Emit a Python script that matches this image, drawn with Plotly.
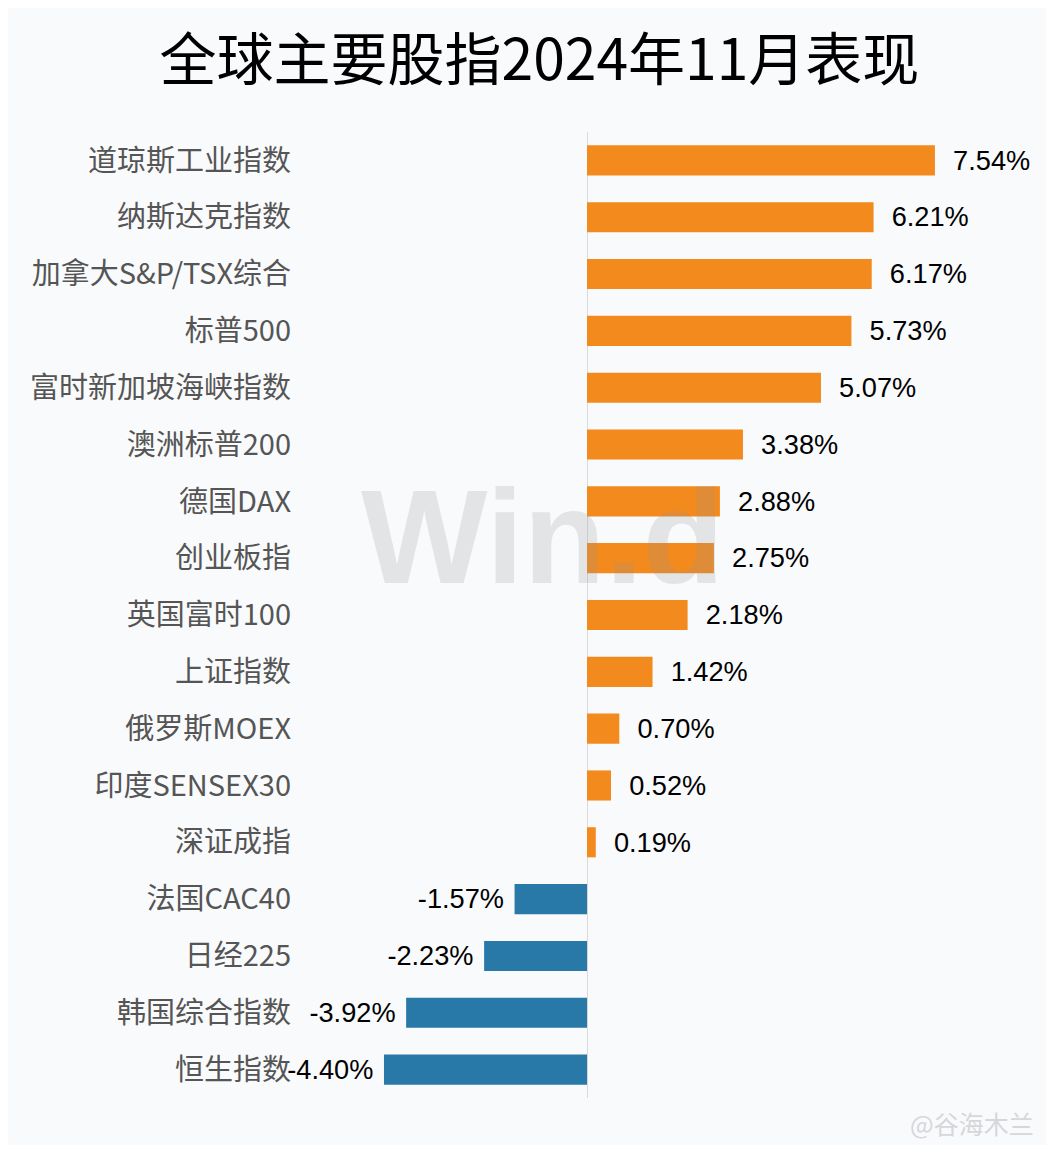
import plotly.graph_objects as go

categories = ["道琼斯工业指数", "纳斯达克指数", "加拿大S&P/TSX综合", "标普500", "富时新加坡海峡指数",
              "澳洲标普200", "德国DAX", "创业板指", "英国富时100", "上证指数", "俄罗斯MOEX",
              "印度SENSEX30", "深证成指", "法国CAC40", "日经225", "韩国综合指数", "恒生指数"]
values = [7.54, 6.21, 6.17, 5.73, 5.07, 3.38, 2.88, 2.75, 2.18, 1.42, 0.70, 0.52, 0.19,
          -1.57, -2.23, -3.92, -4.40]
title_text = "全球主要股指2024年11月表现"

POS = "#F28A1E"
NEG = "#2878A8"
colors = [POS if v >= 0 else NEG for v in values]
NB = "\u00a0"
labels = [(NB * 2 + f"{v:.2f}%") if v >= 0 else (f"{v:.2f}%" + NB) for v in values]

fig = go.Figure(go.Bar(
    x=values, y=categories, orientation="h",
    marker=dict(color=colors, line=dict(width=0)),
    text=labels, textposition="outside", cliponaxis=False,
    textfont=dict(family="Liberation Sans, Arial, sans-serif", size=28, color="#000000"),
))

fig.update_layout(
    width=1038, height=1137,
    paper_bgcolor="#F9FAFC", plot_bgcolor="#F9FAFC",
    margin=dict(l=292, r=10, t=124, b=47),
    bargap=0.47,
    showlegend=False,
    title=dict(text=title_text, x=0.512, xanchor="center", y=0.954, yanchor="middle",
               font=dict(family="Noto Sans CJK SC, sans-serif", size=57, color="#000000")),
    xaxis=dict(range=[-6.22, 9.73], showgrid=False, showticklabels=False, zeroline=True,
               zerolinecolor="#DADADA", zerolinewidth=1, fixedrange=True),
    yaxis=dict(categoryorder="array", categoryarray=categories, autorange="reversed",
               showgrid=False, zeroline=False, ticks="", ticklabelstandoff=8,
               tickfont=dict(family="Noto Sans CJK SC, sans-serif", size=29, color="#555555")),
    annotations=[
        dict(text="<b>Win.d</b>", xref="paper", yref="paper", x=0.33, y=0.581,
             xanchor="center", yanchor="middle",
             showarrow=False, font=dict(family="Liberation Sans, Arial, sans-serif", size=134,
                                        color="rgba(150,150,150,0.22)")),
        dict(text="@谷海木兰", xref="paper", yref="paper", x=1.0, y=-0.026,
             xanchor="right", yanchor="middle",
             showarrow=False, font=dict(family="Noto Sans CJK SC, sans-serif", size=25,
                                        color="#D5D7DA")),
    ],
)

fig.write_html("out.html")
